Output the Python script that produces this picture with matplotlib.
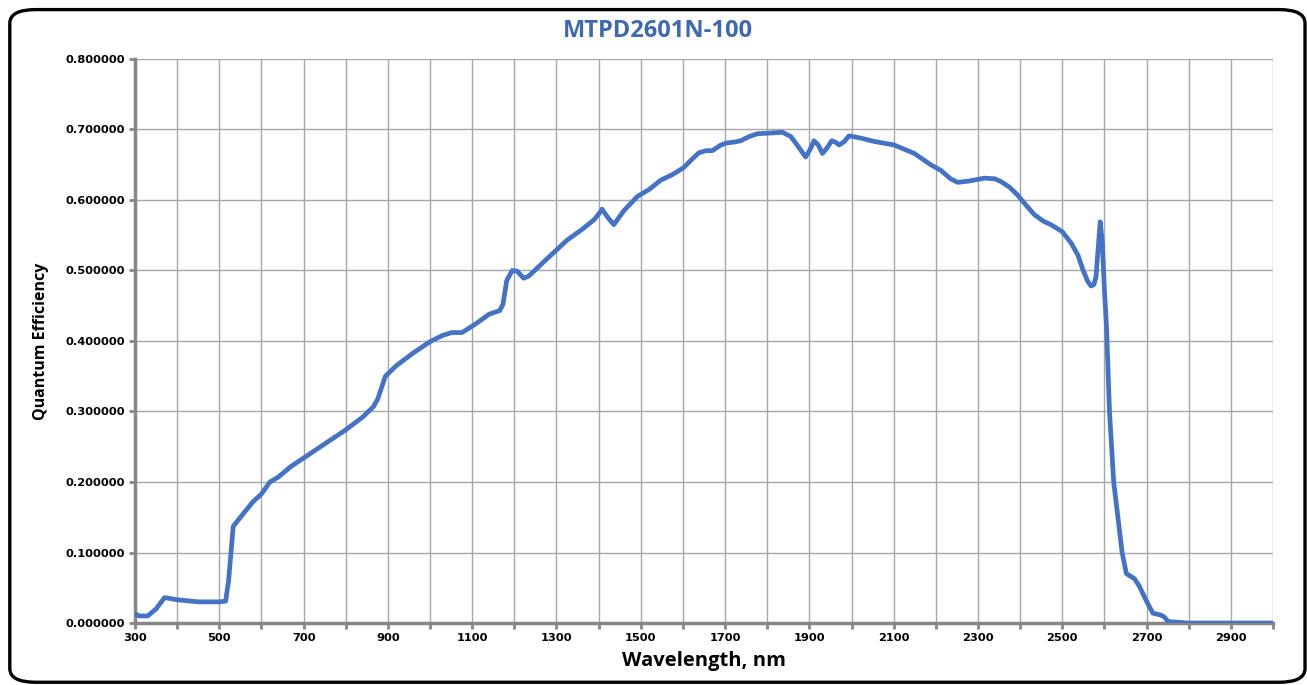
"""
plot.py — quantum efficiency curve of the MTPD2601N-100 photodiode,
redrawn in the look of the original spreadsheet chart.
"""

import matplotlib
matplotlib.use("Agg")
import matplotlib.pyplot as plt
import matplotlib.ticker as mticker
from matplotlib.patches import FancyBboxPatch

# ── Data ────────────────────────────────────────────────────────────────────
wavelength_nm = [
    300, 310, 330, 350, 370, 400, 450, 500, 515, 522, 533, 550, 580, 600,
    620, 640, 670, 700, 750, 800, 840, 866, 876, 894, 920, 960, 1000, 1030,
    1052, 1076, 1110, 1140, 1165, 1173, 1182, 1195, 1207, 1222, 1234, 1280,
    1325, 1360, 1389, 1400, 1408, 1422, 1436, 1460, 1492, 1520, 1547, 1575,
    1602, 1620, 1638, 1655, 1670, 1690, 1705, 1720, 1737, 1757, 1777, 1808,
    1836, 1856, 1872, 1891, 1902, 1911, 1921, 1931, 1942, 1953, 1962, 1971,
    1983, 1994, 2020, 2054, 2101, 2149, 2188, 2212, 2235, 2252, 2280, 2315,
    2340, 2355, 2375, 2394, 2415, 2434, 2455, 2473, 2500, 2521, 2537, 2549,
    2560, 2568, 2575, 2580, 2585, 2590, 2595, 2600, 2605, 2612, 2622, 2632,
    2642, 2652, 2671, 2683, 2695, 2705, 2715, 2735, 2743, 2751, 2800, 2900,
    3000,
]
quantum_eff = [
    0.013, 0.010, 0.010, 0.020, 0.036, 0.033, 0.030, 0.030, 0.031, 0.060,
    0.137, 0.150, 0.172, 0.183, 0.200, 0.207, 0.222, 0.234, 0.254, 0.274,
    0.292, 0.307, 0.318, 0.350, 0.365, 0.383, 0.399, 0.408, 0.412, 0.412,
    0.425, 0.438, 0.443, 0.452, 0.486, 0.500, 0.499, 0.489, 0.492, 0.518,
    0.543, 0.558, 0.572, 0.580, 0.587, 0.575, 0.565, 0.585, 0.605, 0.615,
    0.628, 0.636, 0.646, 0.657, 0.667, 0.670, 0.670, 0.678, 0.681, 0.682,
    0.684, 0.690, 0.694, 0.695, 0.696, 0.690, 0.677, 0.661, 0.672, 0.684,
    0.678, 0.666, 0.674, 0.684, 0.682, 0.678, 0.683, 0.691, 0.688, 0.683,
    0.678, 0.666, 0.650, 0.642, 0.630, 0.625, 0.627, 0.631, 0.630, 0.626,
    0.618, 0.607, 0.592, 0.579, 0.570, 0.565, 0.555, 0.539, 0.522, 0.501,
    0.485, 0.478, 0.480, 0.491, 0.530, 0.569, 0.540, 0.472, 0.420, 0.300,
    0.200, 0.150, 0.100, 0.070, 0.063, 0.052, 0.037, 0.025, 0.014, 0.011,
    0.008, 0.002, 0.000, 0.000, 0.000,
]

TITLE = "MTPD2601N-100"
X_LABEL = "Wavelength, nm"
Y_LABEL = "Quantum Efficiency"

LINE_BLUE = "#4472C4"
TITLE_BLUE = "#3E69B0"
GRID_GREY = "#A6A6A6"
AXIS_GREY = "#868686"

# ── Figure ──────────────────────────────────────────────────────────────────
fig = plt.figure(figsize=(13.07, 6.85), dpi=100)
ax = fig.add_axes([0.1033, 0.0905, 0.8707, 0.8234])

ax.plot(wavelength_nm, quantum_eff, color=LINE_BLUE, linewidth=3.4,
        solid_joinstyle="round", solid_capstyle="round", zorder=3)

ax.set_xlim(300, 3000)
ax.set_ylim(0, 0.8)

# x: grid every 100 nm, labels only on 300, 500, ... 2900
ax.xaxis.set_major_locator(mticker.MultipleLocator(100))
ax.xaxis.set_major_formatter(mticker.FuncFormatter(
    lambda v, _: f"{int(round(v))}" if int(round(v)) % 200 == 100 else ""))
ax.yaxis.set_major_locator(mticker.MultipleLocator(0.1))
ax.yaxis.set_major_formatter(mticker.FuncFormatter(lambda v, _: f"{v:.6f}"))

ax.tick_params(axis="both", which="major", direction="out", length=4,
               width=2, color=AXIS_GREY, labelsize=8.2, pad=3)
for lbl in ax.get_xticklabels() + ax.get_yticklabels():
    lbl.set_fontweight("bold")
    lbl.set_family("DejaVu Sans")

ax.grid(True, color=GRID_GREY, linewidth=1.0, zorder=0)
ax.set_axisbelow(True)

for side in ("top", "right"):
    ax.spines[side].set_visible(False)
for side in ("left", "bottom"):
    ax.spines[side].set_color(AXIS_GREY)
    ax.spines[side].set_linewidth(2.5)

ax.set_xlabel(X_LABEL, fontsize=14.5, fontweight="bold", family="Open Sans",
              labelpad=6)
ax.set_ylabel(Y_LABEL, fontsize=11.5, fontweight="bold", family="Open Sans",
              labelpad=12)
fig.text(0.503, 0.955, TITLE, ha="center", va="center", fontsize=17,
         fontweight="bold", family="Open Sans", color=TITLE_BLUE)

# rounded black frame round the whole chart
frame = FancyBboxPatch((0.0075, 0.004), 0.991, 0.982,
                       boxstyle="round,pad=0,rounding_size=0.02",
                       transform=fig.transFigure, fill=False,
                       edgecolor="black", linewidth=2.4, zorder=10)
fig.patches.append(frame)

fig.savefig("out.png", dpi=100, facecolor="white")
